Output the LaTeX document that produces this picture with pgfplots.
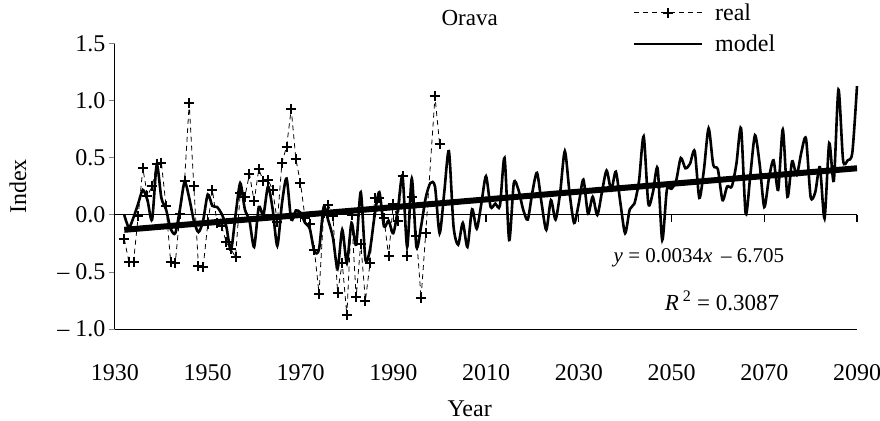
\documentclass[border=0pt]{standalone}
\usepackage{fontspec}
\setmainfont{Liberation Serif}
\usepackage{pgfplots}
\usepackage{pgfplotstable}
\pgfplotsset{compat=1.18}

\pgfplotstableread{
year val
1932 -0.21
1933 -0.41
1934 -0.41
1935 -0.01
1936 0.41
1937 0.17
1938 0.25
1939 0.45
1940 0.46
1941 0.08
1942 -0.41
1943 -0.42
1944 0.01
1945 0.30
1946 0.98
1947 0.25
1948 -0.45
1949 -0.46
1950 -0.08
1951 0.22
1952 -0.07
1953 -0.10
1954 -0.24
1955 -0.30
1956 -0.37
1957 0.19
1958 0.16
1959 0.36
1960 0.12
1961 0.40
1962 0.30
1963 0.31
1964 0.22
1965 -0.06
1966 0.46
1967 0.60
1968 0.93
1969 0.49
1970 0.28
1971 -0.03
1972 -0.08
1973 -0.31
1974 -0.69
1975 0.02
1976 0.09
1977 -0.01
1978 -0.68
1979 -0.42
1980 -0.88
1981 0.00
1982 -0.72
1983 -0.25
1984 -0.75
1985 -0.42
1986 0.15
1987 0.15
1988 -0.03
1989 -0.36
1990 0.10
1991 -0.05
1992 0.34
1993 -0.36
1994 0.16
1995 -0.18
1996 -0.73
1997 -0.16
1999 1.04
2000 0.62
}\realdata

\pgfplotstableread{
year val
1932 0.00
1933 -0.11
1934 -0.02
1935 0.10
1936 0.22
1937 0.13
1938 -0.04
1939 0.44
1940 0.15
1941 0.05
1942 -0.12
1943 -0.16
1944 0.05
1945 0.29
1946 0.15
1947 -0.05
1948 -0.15
1949 -0.05
1950 0.18
1951 0.08
1952 0.07
1953 0.01
1954 -0.10
1955 -0.31
1956 0.00
1957 0.28
1958 0.05
1959 -0.05
1960 -0.28
1961 0.07
1962 0.00
1963 0.25
1964 0.05
1965 -0.27
1966 0.10
1967 0.32
1968 -0.04
1969 0.04
1970 0.02
1971 -0.07
1972 -0.12
1973 -0.32
1974 -0.30
1975 0.07
1976 -0.05
1977 -0.20
1978 -0.47
1979 -0.13
1980 -0.42
1981 -0.07
1982 -0.26
1983 0.20
1984 -0.39
1985 -0.30
1986 0.00
1987 0.20
1988 -0.10
1989 -0.05
1990 -0.16
1991 0.05
1992 0.34
1993 -0.28
1994 0.32
1995 -0.28
1996 -0.10
1997 0.15
1998 0.28
1999 0.25
2000 -0.16
2001 0.20
2002 0.56
2003 -0.10
2004 -0.26
2005 -0.07
2006 -0.28
2007 0.05
2008 -0.12
2009 0.10
2010 0.34
2011 0.07
2012 0.10
2013 0.08
2014 0.50
2015 -0.22
2016 0.28
2017 0.22
2018 0.05
2019 -0.04
2020 0.20
2021 0.37
2022 0.10
2023 -0.13
2024 0.13
2025 -0.04
2026 0.20
2027 0.56
2028 0.20
2029 -0.07
2030 0.10
2031 0.31
2032 0.01
2033 0.16
2034 0.00
2035 0.20
2036 0.39
2037 0.22
2038 0.38
2039 0.10
2040 -0.16
2041 0.05
2042 0.10
2043 0.30
2044 0.69
2045 0.10
2046 0.20
2047 0.41
2048 -0.22
2049 0.22
2050 0.23
2051 0.30
2052 0.50
2053 0.41
2054 0.45
2055 0.56
2056 0.15
2057 0.40
2058 0.76
2059 0.44
2060 0.40
2061 0.13
2062 0.25
2063 0.25
2064 0.45
2065 0.76
2066 0.01
2067 0.35
2068 0.70
2069 0.45
2070 0.07
2071 0.32
2072 0.48
2073 0.22
2074 0.75
2075 0.16
2076 0.47
2077 0.35
2078 0.55
2079 0.67
2080 0.16
2081 0.20
2082 0.42
2083 -0.03
2084 0.63
2085 0.30
2086 1.10
2087 0.48
2088 0.48
2089 0.55
2090 1.13
}\modeldata

\begin{document}
\begin{tikzpicture}
\useasboundingbox (-115bp,-92bp) rectangle (765bp,329bp);
\begin{axis}[
  at={(0,0)}, anchor=south west,
  scale only axis,
  width=742bp, height=285bp,
  xmin=1930, xmax=2090,
  ymin=-1, ymax=1.5,
  axis x line=bottom,
  axis y line=left,
  axis line style={line width=1bp, -},
  xtick={1930,1950,...,2090},
  xticklabels={1930,1950,1970,1990,2010,2030,2050,2070,2090},
  xtick style={draw=none},
  xticklabel style={yshift=-26bp},
  ytick={-1,-0.5,0,0.5,1,1.5},
  yticklabels={– 1.0,– 0.5,0.0,0.5,1.0,1.5},
  ytick style={line width=1bp},
  tick align=outside,
  major tick length=6bp,
  ticklabel style={font=\fontsize{24bp}{27bp}\selectfont},
  xlabel={Year},
  ylabel={Index},
  label style={font=\fontsize{24bp}{27bp}\selectfont},
  xlabel style={at={(axis description cs:0.478,-0.28)}, anchor=center},
  ylabel style={at={(axis description cs:-0.131,0.5)}, anchor=center},
  clip=false,
  legend style={draw=none, fill=none, at={(axis description cs:0.693,1.156)}, anchor=north west,
    font=\fontsize{24bp}{27bp}\selectfont, row sep=9bp,
    /tikz/every odd column/.append style={column sep=10bp}},
  legend cell align=left,
  legend image code/.code={\draw[mark repeat=2,mark phase=2,#1] plot coordinates {(0bp,0bp) (34bp,0bp) (68bp,0bp)};},
]
\addlegendimage{black, line width=0.8bp, dash pattern=on 5bp off 4bp, mark=+, mark size=5bp, mark options={solid, line width=2bp}}
\addlegendimage{black, line width=2.8bp}
\draw[line width=1bp] (axis cs:1930,0) -- (axis cs:2090,0);
\draw[line width=1.3bp] (axis cs:1950,0) -- (axis cs:1950,-0.06);
\draw[line width=1.3bp] (axis cs:1970,0) -- (axis cs:1970,-0.06);
\draw[line width=1.3bp] (axis cs:1990,0) -- (axis cs:1990,-0.06);
\draw[line width=1.3bp] (axis cs:2010,0) -- (axis cs:2010,-0.06);
\draw[line width=1.3bp] (axis cs:2030,0) -- (axis cs:2030,-0.06);
\draw[line width=1.3bp] (axis cs:2050,0) -- (axis cs:2050,-0.06);
\draw[line width=1.3bp] (axis cs:2070,0) -- (axis cs:2070,-0.06);
\draw[line width=1.3bp] (axis cs:2090,0) -- (axis cs:2090,-0.06);
\addplot[forget plot, black, line width=2.6bp, smooth, tension=0.45] table[x=year,y=val] {\modeldata};
\addplot[forget plot, black, line width=6bp] coordinates {(1932,-0.13) (2090,0.41)};
\addplot[forget plot, black, line width=0.8bp, dash pattern=on 5bp off 4bp, mark=+, mark size=5bp, mark options={solid, line width=2bp}] table[x=year,y=val] {\realdata};
\legend{real,model}
\node[font=\fontsize{23bp}{26bp}\selectfont] at (axis description cs:0.478,1.09) {Orava};
\node[font=\fontsize{21bp}{25bp}\selectfont] at (axis description cs:0.787,0.25) {\textit{y} = 0.0034\textit{x}\, – 6.705};
\node[font=\fontsize{23bp}{26bp}\selectfont] at (axis description cs:0.818,0.10) {\textit{R}\,$^{\mathrm{2}}$ = 0.3087};
\end{axis}
\end{tikzpicture}
\end{document}
